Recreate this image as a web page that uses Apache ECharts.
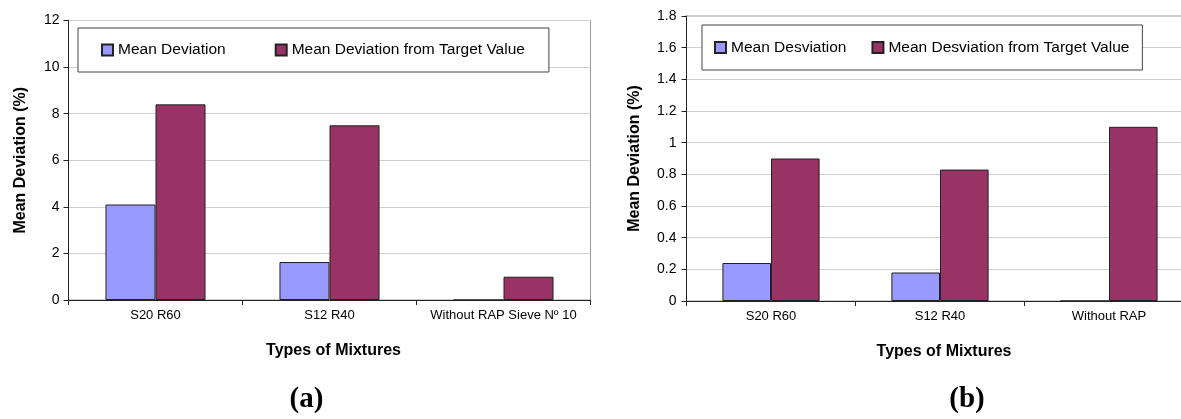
<!DOCTYPE html>
<html>
<head>
<meta charset="utf-8">
<script src="https://cdn.jsdelivr.net/npm/echarts@6/dist/echarts.min.js"></script>
<style>
  html, body { margin: 0; padding: 0; background: #fff; }
  #chart { width: 1181px; height: 419px; }
</style>
</head>
<body>
<div id="chart"></div>
<script>
  // (a) data
  const categoriesA = ['S20 R60', 'S12 R40', 'Without RAP Sieve Nº 10']
  const meanDevA = [4.1, 1.63, 0]
  const targetDevA = [8.4, 7.5, 1.0]

  // (b) data
  const categoriesB = ['S20 R60', 'S12 R40', 'Without RAP']
  const meanDevB = [0.24, 0.18, 0]
  const targetDevB = [0.9, 0.83, 1.1]

  const FONT = 'Liberation Sans, Arial, sans-serif'
  const BLUE = '#9999ff'
  const MAROON = '#993366'

  const myChart = echarts.init(document.getElementById('chart'))

  const barStyle = (color) => ({
    color: color,
    borderColor: '#222',
    borderWidth: 1
  })

  const xAxisFor = (idx, cats) => ({
    type: 'category',
    gridIndex: idx,
    data: cats,
    boundaryGap: true,
    name: 'Types of Mixtures',
    nameLocation: 'middle',
    nameGap: 43,
    nameTextStyle: {
      fontFamily: FONT, fontSize: 16, fontWeight: 'bold', color: '#000',
      padding: [0, 0, 0, 8]
    },
    axisLine: { lineStyle: { color: '#222', width: 1 } },
    axisTick: { show: true, length: 5, lineStyle: { color: '#222' } },
    axisLabel: { interval: 0, fontFamily: FONT, fontSize: 13, color: '#000', margin: 9 },
    splitLine: { show: false }
  })

  const yAxisFor = (idx, max, interval, gap, margin) => ({
    type: 'value',
    gridIndex: idx,
    min: 0,
    max: max,
    interval: interval,
    name: 'Mean Deviation (%)',
    nameLocation: 'middle',
    nameGap: gap,
    nameTextStyle: { fontFamily: FONT, fontSize: 16, fontWeight: 'bold', color: '#000' },
    axisLine: { show: true, lineStyle: { color: '#222', width: 1 } },
    axisTick: { show: true, length: 5, lineStyle: { color: '#222' } },
    axisLabel: {
      fontFamily: FONT, fontSize: 14, color: '#000', margin: margin,
      formatter: (v) => String(+v.toFixed(1))
    },
    splitLine: { show: true, lineStyle: { color: '#d0d0d0', width: 1 } }
  })

  const legendFor = (left, top, names, padding, gap) => ({
    left: left,
    top: top,
    orient: 'horizontal',
    data: names,
    backgroundColor: '#fff',
    borderColor: '#444',
    borderWidth: 1,
    padding: padding,
    itemGap: gap,
    itemWidth: 11,
    itemHeight: 11,
    icon: 'rect',
    textStyle: { fontFamily: FONT, fontSize: 15.5, color: '#000', lineHeight: 16 }
  })

  const option = {
    animation: false,
    grid: [
      {
        left: 68.5, top: 20.5, width: 522, height: 279.5, outerBoundsMode: 'none',
        show: true, borderColor: '#9a9a9a', borderWidth: 1
      },
      {
        left: 686.5, top: 16, width: 507, height: 285, outerBoundsMode: 'none',
        show: true, borderColor: '#9a9a9a', borderWidth: 1
      }
    ],
    legend: [
      legendFor(78, 28, ['Mean Deviation', 'Mean Deviation from Target Value'], [14, 24, 14, 23], 49),
      legendFor(702, 25, ['Mean Desviation', 'Mean Desviation from Target Value'], [14.5, 13, 14.5, 12], 25)
    ],
    xAxis: [xAxisFor(0, categoriesA), xAxisFor(1, categoriesB)],
    yAxis: [yAxisFor(0, 12, 2, 40, 9), yAxisFor(1, 1.8, 0.2, 44, 10)],
    series: [
      {
        name: 'Mean Deviation', type: 'bar', xAxisIndex: 0, yAxisIndex: 0,
        data: meanDevA, barGap: '0%', barCategoryGap: '42.5%', itemStyle: barStyle(BLUE)
      },
      {
        name: 'Mean Deviation from Target Value', type: 'bar', xAxisIndex: 0, yAxisIndex: 0,
        data: targetDevA, barGap: '0%', barCategoryGap: '42.5%', itemStyle: barStyle(MAROON)
      },
      {
        name: 'Mean Desviation', type: 'bar', xAxisIndex: 1, yAxisIndex: 1,
        data: meanDevB, barGap: '0%', barCategoryGap: '42.5%', itemStyle: barStyle(BLUE)
      },
      {
        name: 'Mean Desviation from Target Value', type: 'bar', xAxisIndex: 1, yAxisIndex: 1,
        data: targetDevB, barGap: '0%', barCategoryGap: '42.5%', itemStyle: barStyle(MAROON)
      }
    ],
    graphic: [
      {
        type: 'text', x: 306.5, y: 400,
        style: {
          text: '(a)', align: 'center', verticalAlign: 'middle',
          font: 'bold 29px "Liberation Serif", "Times New Roman", serif', fill: '#000'
        }
      },
      {
        type: 'text', x: 967, y: 400,
        style: {
          text: '(b)', align: 'center', verticalAlign: 'middle',
          font: 'bold 29px "Liberation Serif", "Times New Roman", serif', fill: '#000'
        }
      }
    ]
  }

  myChart.setOption(option)
</script>
</body>
</html>
